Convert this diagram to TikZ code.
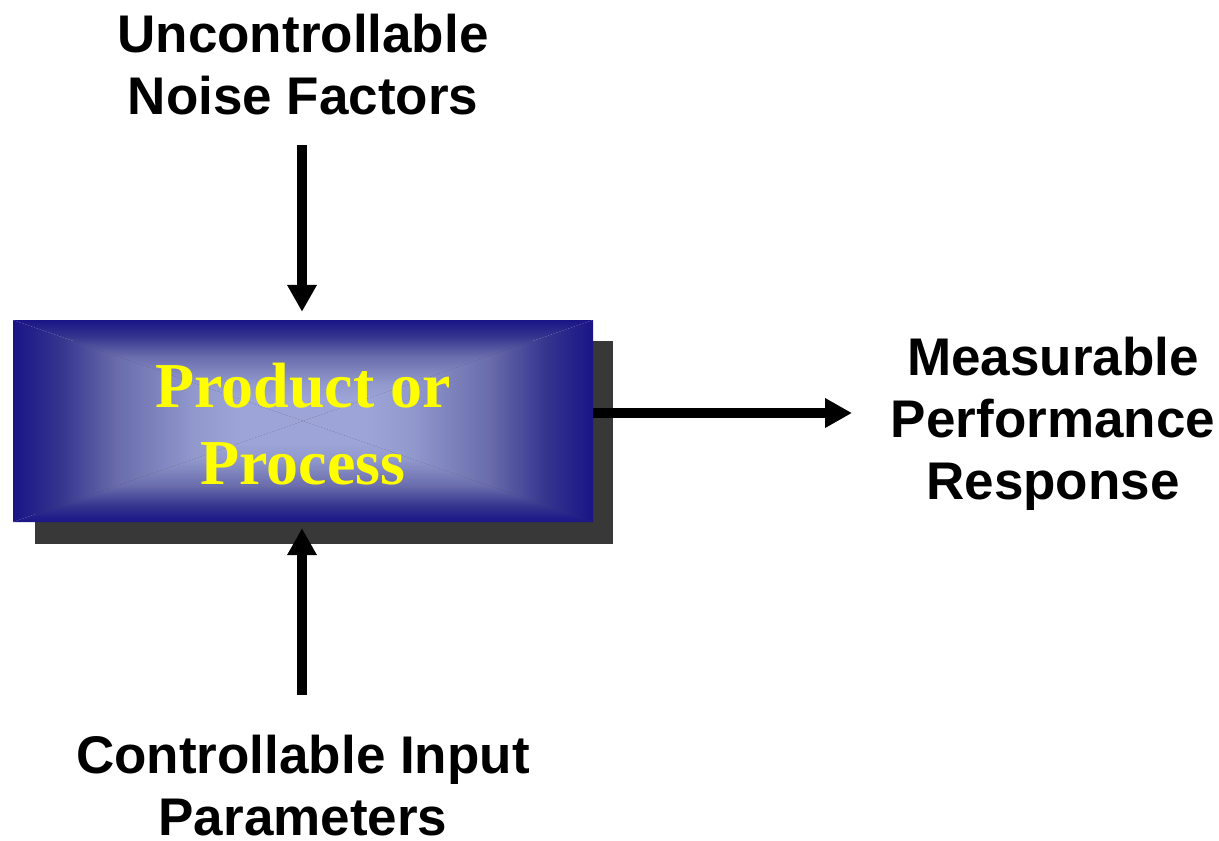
\documentclass[tikz,border=0pt]{standalone}
\usepackage{fontspec}
\setmainfont{Liberation Sans}
\newfontfamily\timesfont{Liberation Serif}
\usetikzlibrary{arrows.meta}
\definecolor{edgeblue}{HTML}{1A1487}
\definecolor{gradA}{HTML}{34348E}
\definecolor{gradB}{HTML}{6A6CAC}
\definecolor{gradC}{HTML}{9098CC}
\definecolor{centerblue}{HTML}{9CA4D8}
\definecolor{shadowgray}{HTML}{383838}
\definecolor{textyellow}{HTML}{FFFF00}
\pgfdeclareverticalshading{pyramid}{100bp}{color(0bp)=(centerblue); color(36bp)=(centerblue); color(44bp)=(gradC); color(57bp)=(gradB); color(67bp)=(gradA); color(75bp)=(edgeblue); color(100bp)=(edgeblue)}
\tikzset{
  lbl/.style={font=\fontsize{53}{62}\selectfont\bfseries, align=center, inner sep=0pt},
  boxtext/.style={font=\timesfont\fontsize{64}{77}\selectfont\bfseries, text=textyellow, align=center, inner sep=0pt},
  flow/.style={line width=10pt, -{Triangle[width=28pt,length=27pt]}},
  facet/.style={shading=pyramid, shading angle=#1},
}
\begin{document}
\begin{tikzpicture}[x=1pt,y=-1pt]
\useasboundingbox (0,0) rectangle (1219,841);
% shadow
\fill[shadowgray] (35,341) rectangle (613,544);
% box with rectangular gradient
\coordinate (c) at (303,421);
\shade[facet=0] (13,320) -- (593,320) -- (c) -- cycle;
\shade[facet=180] (13,522) -- (593,522) -- (c) -- cycle;
\shade[facet=90] (13,320) -- (13,522) -- (c) -- cycle;
\shade[facet=-90] (593,320) -- (593,522) -- (c) -- cycle;
\node[minimum width=580pt, minimum height=202pt, inner sep=0pt] (box) at (303,421) {};
\node[boxtext] (boxlbl) at (303,424) {Product or\\Process};
% labels
\node[lbl] (noise) at (303,65) {Uncontrollable\\Noise Factors};
\node[lbl] (ctrl) at (303,786) {Controllable Input\\Parameters};
\node[lbl] (resp) at (1053,424) {Measurable\\Performance\\Response};
% arrows
\coordinate (ntop) at (302,145);
\coordinate (cbot) at (302,695);
\coordinate (rend) at (852,413);
\draw[flow] (ntop) -- ([yshift=8pt]ntop |- box.north);
\draw[flow] (cbot) -- ([yshift=-6pt]cbot |- box.south);
\draw[flow] ([yshift=8pt]box.east) -- (rend);
\end{tikzpicture}
\end{document}
